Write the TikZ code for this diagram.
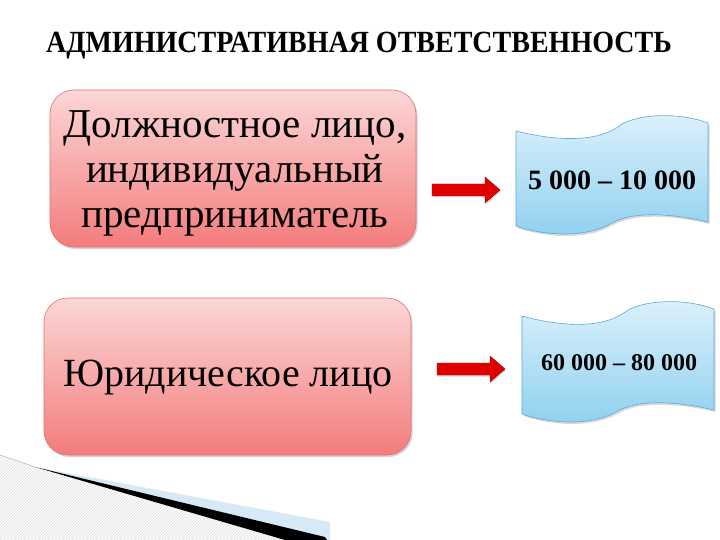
\documentclass[tikz,border=0pt]{standalone}
\usepackage{fontspec}
\setmainfont{Liberation Serif}
\usetikzlibrary{shadows,patterns}
\definecolor{pinktop}{HTML}{FCD6D6}
\definecolor{pinkbot}{HTML}{F47C7C}
\definecolor{pinkedge}{HTML}{E07070}
\definecolor{bluetop}{HTML}{DDF1FB}
\definecolor{bluebot}{HTML}{8FD0F0}
\definecolor{blueedge}{HTML}{5BA9D6}
\definecolor{arrowred}{HTML}{E00000}
\definecolor{bandblue}{HTML}{D6E9F4}
\tikzset{
  pinkbox/.style={draw=pinkedge, line width=0.6pt, rounded corners=24pt,
    top color=pinktop, bottom color=pinkbot, align=center,
    drop shadow={shadow xshift=1.5pt, shadow yshift=-2pt, opacity=0.35}},
  boxtext/.style={font=\fontsize{41}{45}\selectfont, align=center},
  wavetext/.style={font=\bfseries\fontsize{22}{26}\selectfont},
  wavefill/.style={draw=blueedge, line width=0.6pt, top color=bluetop, bottom color=bluebot,
    drop shadow={shadow xshift=1.5pt, shadow yshift=-2pt, opacity=0.3}},
  redarrow/.style={fill=arrowred, draw=arrowred!70!black, line width=0.4pt,
    drop shadow={shadow xshift=1pt, shadow yshift=-1.5pt, opacity=0.3}}
}
\begin{document}
\begin{tikzpicture}[x=1pt,y=-1pt]
\useasboundingbox (0,0) rectangle (720,540);
% bottom-left decoration
\fill[pattern=north east lines, pattern color=gray!30] (0,455) -- (35,467) -- (285,540) -- (0,540) -- cycle;
\fill[bandblue] (35,467) -- (330,522) -- (330,540) -- (320,540) -- cycle;
\fill[black] (35,467) -- (325,537) -- (327,540) -- (285,540) -- cycle;
\draw[gray!60, line width=0.5pt] (0,455) -- (35,467);
% title
\node[font=\bfseries\fontsize{28}{32}\selectfont] (title) at (359,46) {\scalebox{1}[1.1]{АДМИНИСТРАТИВНАЯ ОТВЕТСТВЕННОСТЬ}};
% pink boxes
\path[pinkbox] (50,90) rectangle (416,247);
\node[boxtext] (b1) at (235,173) {Должностное лицо,\\индивидуальный\\предприниматель};
\path[pinkbox] (44,298) rectangle (411,455);
\node[boxtext, font=\fontsize{40}{45}\selectfont] (b2) at (228,378) {Юридическое лицо};
% wave banners
\path[wavefill] (516,131) .. controls (560,142) and (600,142) .. (622,124)
  .. controls (645,112) and (685,114) .. (708,123) -- (708,222)
  .. controls (665,212) and (630,212) .. (610,224)
  .. controls (585,238) and (545,236) .. (516,226) -- cycle;
\node[wavetext, font=\bfseries\fontsize{28}{32}\selectfont] (w1) at (612,180) {5 000 – 10 000};
\path[wavefill] (522,316) .. controls (566,328) and (606,328) .. (628,310)
  .. controls (651,298) and (691,300) .. (714,309) -- (714,410)
  .. controls (671,400) and (636,400) .. (616,412)
  .. controls (591,426) and (551,424) .. (522,414) -- cycle;
\node[wavetext, font=\bfseries\fontsize{24}{28}\selectfont] (w2) at (619,363) {60 000 – 80 000};
% arrows
\coordinate (a1s) at (432,178);
\coordinate (a2s) at (437,357);
\path[redarrow] ([yshift=-6]a1s) -- ++(53,0) -- ++(0,-7) -- ++(15,13) -- ++(-15,13) -- ++(0,-7) -- ++(-53,0) -- cycle;
\path[redarrow] ([yshift=-6]a2s) -- ++(53,0) -- ++(0,-7) -- ++(15,13) -- ++(-15,13) -- ++(0,-7) -- ++(-53,0) -- cycle;
\end{tikzpicture}
\end{document}
